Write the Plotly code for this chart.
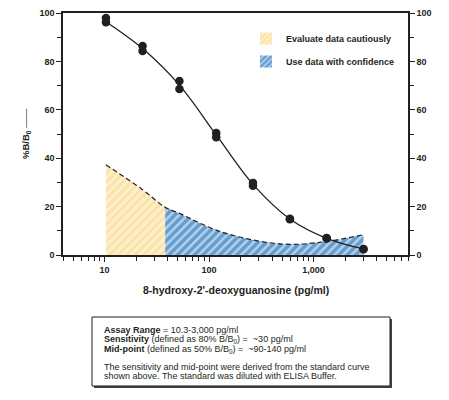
import math
import plotly.graph_objects as go

# ---------------- data ----------------
conc = [10.3, 23.1, 52, 117, 263, 593, 1333, 3000]          # pg/ml standards
bb0_rep1 = [97.9, 86.4, 71.9, 50.4, 29.8, 15.0, 7.0, 2.5]   # %B/B0 replicate 1
bb0_rep2 = [96.2, 84.3, 68.6, 48.7, 28.6, 14.8, 6.8, 2.4]   # %B/B0 replicate 2
fit_bb0 = [96.4, 85.3, 70.2, 49.6, 29.2, 14.9, 6.9, 2.5]    # standard curve (fit)

cv_conc = [10.3, 23.1, 38, 52, 117, 263, 593, 1333, 3000]
cv_pct = [37.3, 27.0, 19.7, 17.2, 10.3, 6.2, 4.4, 5.6, 8.4]  # %CV
boundary_conc = 38   # where %CV crosses 20 %

x_tick_vals = [10, 100, 1000]
x_tick_text = ["10", "100", "1,000"]
y_tick_vals = [0, 20, 40, 60, 80, 100]

legend_names = ["Evaluate data cautiously", "Use data with confidence"]

box_lines = [
    "<b>Assay Range</b> = 10.3-3,000 pg/ml",
    "<b>Sensitivity</b> (defined as 80% B/B<sub>0</sub>) =  ~30 pg/ml",
    "<b>Mid-point</b> (defined as 50% B/B<sub>0</sub>) =  ~90-140 pg/ml",
    "The sensitivity and mid-point were derived from the standard curve",
    "shown above. The standard was diluted with ELISA Buffer.",
]

# ---------------- style ----------------
INK = "#231f20"
FONT = "Liberation Sans, Arial, Helvetica, sans-serif"
YEL_BG, YEL_FG = "#fef0c9", "#f9d38e"
BLU_BG, BLU_FG = "#b5d3ee", "#1566ad"

W, H = 449, 400
L, R, T, B = 55, 49, 5, 153
PW, PH = W - L - R, H - T - B


def pxx(p):
    return (p - L) / PW


def pxy(p):
    return (H - B - p) / PH


caution = [(x, y) for x, y in zip(cv_conc, cv_pct) if x <= boundary_conc]
confident = [(x, y) for x, y in zip(cv_conc, cv_pct) if x >= boundary_conc]

fig = go.Figure()

# %CV fills (primary y axis, drawn underneath)
fig.add_trace(go.Scatter(
    x=[p[0] for p in caution], y=[p[1] for p in caution],
    mode="none", fill="tozeroy", line=dict(shape="spline"),
    fillcolor=YEL_BG,
    fillpattern=dict(shape="/", fgcolor=YEL_FG, bgcolor=YEL_BG, size=6, solidity=0.5),
    showlegend=False, hoverinfo="skip", yaxis="y"))
fig.add_trace(go.Scatter(
    x=[p[0] for p in confident], y=[p[1] for p in confident],
    mode="none", fill="tozeroy", line=dict(shape="spline"),
    fillcolor=BLU_BG,
    fillpattern=dict(shape="/", fgcolor=BLU_FG, bgcolor=BLU_BG, size=6, solidity=0.6),
    showlegend=False, hoverinfo="skip", yaxis="y"))
fig.add_trace(go.Scatter(
    x=cv_conc, y=cv_pct, mode="lines",
    line=dict(color=INK, width=1.2, dash="5px,3px", shape="spline"),
    showlegend=False, yaxis="y"))

# legend entries (patterned swatches)
fig.add_trace(go.Bar(
    x=[None], y=[None], name=legend_names[0], legendgroup="a",
    marker=dict(color=YEL_BG, line=dict(width=0),
                pattern=dict(shape="/", fgcolor=YEL_FG, bgcolor=YEL_BG, size=5, solidity=0.5)),
    yaxis="y"))
fig.add_trace(go.Bar(
    x=[None], y=[None], name=legend_names[1], legendgroup="b",
    marker=dict(color=BLU_BG, line=dict(width=0),
                pattern=dict(shape="/", fgcolor=BLU_FG, bgcolor=BLU_BG, size=5, solidity=0.6)),
    yaxis="y"))

# %B/B0 standard curve (overlay axis, drawn on top)
fig.add_trace(go.Scatter(
    x=conc, y=fit_bb0, mode="lines",
    line=dict(color=INK, width=1.3, shape="spline", smoothing=1),
    showlegend=False, yaxis="y2"))
fig.add_trace(go.Scatter(
    x=conc + conc, y=bb0_rep1 + bb0_rep2, mode="markers",
    marker=dict(color=INK, size=8.5),
    showlegend=False, yaxis="y2"))

minor_x = [m * 10 ** d for d in range(0, 4) for m in range(2, 10)]
minor_x = [v for v in minor_x if 4 <= v <= 8000 and v not in x_tick_vals]

tickfont = dict(family=FONT, size=9, color=INK, weight="bold")
yax_common = dict(
    range=[0, 100], tickvals=y_tick_vals, ticks="outside", ticklen=5, tickwidth=1,
    tickcolor=INK, showline=True, linecolor=INK, linewidth=1.5, showgrid=False,
    zeroline=False, tickfont=tickfont,
    minor=dict(tickvals=[10, 30, 50, 70, 90], ticks="outside", ticklen=4,
               tickwidth=1, tickcolor=INK, showgrid=False),
)

fig.update_layout(
    width=W, height=H,
    margin=dict(l=L, r=R, t=T, b=B, autoexpand=False),
    paper_bgcolor="white", plot_bgcolor="white",
    font=dict(family=FONT, size=9, color=INK),
    xaxis=dict(
        type="log", range=[math.log10(4), math.log10(8000)],
        tickvals=x_tick_vals, ticktext=x_tick_text,
        ticks="outside", ticklen=5, tickwidth=1, tickcolor=INK,
        showline=True, linecolor=INK, linewidth=1.5, mirror=True,
        showgrid=False, zeroline=False, tickfont=tickfont,
        minor=dict(tickvals=minor_x, ticks="outside", ticklen=4, tickwidth=1,
                   tickcolor=INK, showgrid=False),
    ),
    yaxis=dict(side="right", **yax_common),
    yaxis2=dict(side="left", overlaying="y", **yax_common),
    showlegend=True,
    legend=dict(
        x=pxx(238), y=pxy(16), xanchor="left", yanchor="top",
        bgcolor="rgba(0,0,0,0)", borderwidth=0, tracegroupgap=4,
        font=dict(family=FONT, size=9, color=INK, weight="bold"),
        itemclick=False, itemdoubleclick=False,
    ),
    bargap=0,
)

# axis titles
fig.add_annotation(
    xref="paper", yref="paper", x=0.5, y=0, yshift=-35, showarrow=False,
    text="<b>8-hydroxy-2'-deoxyguanosine (pg/ml)</b>",
    font=dict(family=FONT, size=10.5, color=INK), xanchor="center", yanchor="middle")
fig.add_annotation(
    xref="paper", yref="paper", x=0, y=0.5, xshift=-37, showarrow=False,
    textangle=-90, text="<b>%B/B<sub>0</sub></b> ——",
    font=dict(family=FONT, size=9.5, color=INK), xanchor="center", yanchor="middle")
fig.add_annotation(
    xref="paper", yref="paper", x=1, y=0.5, xshift=39, showarrow=False,
    textangle=-90, text="<b>% CV</b> <span style='color:#bbbbbb'>— —</span>",
    font=dict(family=FONT, size=9.5, color=INK), xanchor="center", yanchor="middle")

# info box
bx0, bx1, by0, by1 = 84, 382, 309, 378
fig.add_shape(type="rect", xref="paper", yref="paper",
              x0=pxx(bx0 + 2), x1=pxx(bx1 + 2), y0=pxy(by1 + 2), y1=pxy(by0 + 2),
              fillcolor="#444444", line=dict(width=0), layer="above")
fig.add_shape(type="rect", xref="paper", yref="paper",
              x0=pxx(bx0), x1=pxx(bx1), y0=pxy(by1), y1=pxy(by0),
              fillcolor="white", line=dict(color=INK, width=1), layer="above")
line_y = [322, 331.5, 341, 358.5, 368]
for txt, yy in zip(box_lines, line_y):
    fig.add_annotation(
        xref="paper", yref="paper", x=pxx(bx0 + 10), y=pxy(yy),
        xanchor="left", yanchor="middle", align="left", showarrow=False,
        text=txt, font=dict(family=FONT, size=9, color=INK))

fig.write_html("out.html")
